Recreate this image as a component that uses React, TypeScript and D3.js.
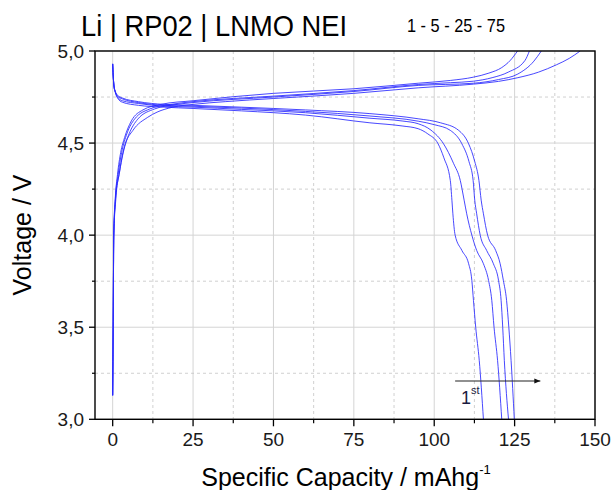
import React from "react";
import * as d3 from "d3";

type Pt = [number, number];

const cycleLabels = ["1", "5", "25", "75"];

// charge curves: [capacity mAh/g, voltage V]
const chargeCycle1: Pt[] = [[0,3.13],[0.15,3.5],[0.35,4.0],[1,4.2],[2.2,4.35],[4,4.496],[6.3,4.569],[10.9,4.64],[13.8,4.668],[18.7,4.695],[25,4.71],[35,4.725],[50,4.742],[75,4.77],[95,4.8],[112.2,4.82],[120,4.835],[126,4.855],[132.4,4.885],[138,4.925],[142,4.96],[145.4,5.0]];
const chargeCycle5: Pt[] = [[0,3.13],[0.15,3.5],[0.35,4.0],[0.9,4.2],[2,4.33],[3.2,4.45],[5.1,4.55],[7.8,4.63],[13,4.685],[20,4.71],[25,4.72],[50,4.75],[75,4.78],[95,4.813],[112.2,4.825],[120,4.845],[126,4.875],[131,4.945],[133.3,5.0]];
const chargeCycle25: Pt[] = [[0,3.13],[0.15,3.5],[0.35,4.0],[0.85,4.2],[1.7,4.33],[2.8,4.45],[4.4,4.55],[6.8,4.63],[11.5,4.685],[18,4.71],[25,4.725],[50,4.755],[75,4.785],[95,4.818],[105,4.828],[112.2,4.836],[118,4.855],[123,4.885],[128.2,4.948],[129.6,5.0]];
const chargeCycle75: Pt[] = [[0,3.13],[0.15,3.5],[0.3,4.0],[0.8,4.2],[1.5,4.33],[2.5,4.45],[3.7,4.53],[5.8,4.62],[9.4,4.68],[15,4.71],[25,4.73],[50,4.77],[75,4.795],[95,4.825],[105,4.84],[112.2,4.858],[117,4.88],[121,4.91],[123.6,4.948],[125.9,5.0]];

// discharge curves
const dischargeCycle1: Pt[] = [[0,4.93],[0.15,4.87],[0.4,4.81],[0.8,4.775],[1.5,4.745],[3,4.722],[8,4.705],[16,4.695],[25,4.688],[40,4.675],[60,4.652],[80,4.61],[90,4.593],[95,4.578],[98,4.55],[101.2,4.496],[103,4.42],[105,4.297],[105.5,4.19],[105.8,4.116],[106.5,4.0],[108.6,3.917],[110.7,3.845],[111.7,3.754],[112.2,3.646],[112.9,3.5],[114,3.32],[115.3,3.0]];
const dischargeCycle5: Pt[] = [[0,4.93],[0.15,4.87],[0.4,4.81],[0.8,4.78],[1.5,4.75],[3,4.73],[8,4.715],[16,4.7],[25,4.695],[40,4.683],[60,4.665],[80,4.635],[90,4.62],[95,4.605],[99,4.57],[102.9,4.496],[106,4.39],[108.1,4.297],[109.3,4.19],[110.1,4.116],[111.7,4.0],[113.2,3.917],[115.3,3.845],[116.9,3.754],[117.9,3.646],[118.6,3.5],[119.7,3.32],[121.0,3.0]];
const dischargeCycle25: Pt[] = [[0,4.93],[0.15,4.87],[0.4,4.81],[0.8,4.78],[1.5,4.755],[3,4.74],[8,4.72],[16,4.705],[25,4.7],[40,4.69],[60,4.672],[80,4.647],[95,4.619],[100,4.6],[105,4.569],[108.6,4.496],[110.8,4.4],[112.1,4.297],[112.6,4.19],[113.2,4.116],[114.3,4.0],[116.3,3.917],[118.4,3.845],[120,3.754],[120.8,3.646],[121.3,3.5],[121.8,3.32],[123.1,3.0]];
const dischargeCycle75: Pt[] = [[0,4.93],[0.15,4.87],[0.4,4.81],[0.8,4.78],[1.5,4.76],[3,4.745],[8,4.725],[16,4.71],[25,4.705],[40,4.695],[60,4.68],[80,4.66],[95,4.632],[102,4.61],[107.6,4.569],[110.7,4.496],[112.6,4.4],[113.9,4.297],[114.6,4.19],[115.3,4.116],[116.6,4.0],[119.1,3.917],[120.5,3.845],[121.5,3.754],[122.5,3.646],[123.2,3.5],[123.9,3.32],[124.9,3.0]];

const curves: Pt[][] = [chargeCycle1, chargeCycle5, chargeCycle25, chargeCycle75, dischargeCycle1, dischargeCycle5, dischargeCycle25, dischargeCycle75];

const xTicks = [0, 25, 50, 75, 100, 125, 150];
const xMinorTicks = [12.5, 37.5, 62.5, 87.5, 112.5, 137.5];
const yTicks = [3.0, 3.5, 4.0, 4.5, 5.0];
const yMinorTicks = [3.25, 3.75, 4.25, 4.75];

const titleText = "Li | RP02 | LNMO NEI";
const xTitle = "Specific Capacity / mAhg";
const yTitle = "Voltage / V";

// annotation arrow (data coords)
const arrowFrom: Pt = [106.5, 3.208];
const arrowTo: Pt = [133, 3.208];
const firstLabelPos: Pt = [108.3, 3.083];

const FONT = "'Liberation Sans', Arial, sans-serif";

export default function App() {
  const L = 95, R = 595, T = 51, B = 419.3;
  const x = d3.scaleLinear().domain([-5.5, 150]).range([L, R]);
  const y = d3.scaleLinear().domain([3, 5]).range([B, T]);
  const line = d3.line<Pt>().x(d => x(d[0])).y(d => y(d[1])).curve(d3.curveMonotoneX);
  const fmt = (v: number) => d3.format(".1f")(v).replace(".", ",");

  return (
    <svg width={614} height={490} style={{ position: "absolute", left: 0, top: 0, background: "#fff" }} fontFamily={FONT}>
      <defs>
        <clipPath id="plot"><rect x={L} y={T} width={R - L} height={B - T} /></clipPath>
        <marker id="ah" viewBox="0 0 10 10" refX="10" refY="5" markerWidth="10" markerHeight="6" orient="auto" markerUnits="userSpaceOnUse">
          <path d="M0,1 L10,5 L0,9 Z" fill="#111" />
        </marker>
      </defs>
      {/* grid */}
      {xTicks.map(t => <line key={"gx" + t} x1={x(t)} x2={x(t)} y1={T} y2={B} stroke="#d4d4d4" strokeWidth={1} />)}
      {xMinorTicks.map(t => <line key={"gmx" + t} x1={x(t)} x2={x(t)} y1={T} y2={B} stroke="#c4c4c4" strokeWidth={0.8} strokeDasharray="3,3" />)}
      {yTicks.map(t => <line key={"gy" + t} x1={L} x2={R} y1={y(t)} y2={y(t)} stroke="#d4d4d4" strokeWidth={1} />)}
      {yMinorTicks.map(t => <line key={"gmy" + t} x1={L} x2={R} y1={y(t)} y2={y(t)} stroke="#c4c4c4" strokeWidth={0.8} strokeDasharray="3,3" />)}
      {/* curves */}
      <g clipPath="url(#plot)">
        {curves.map((c, i) => (
          <path key={i} d={line(c) || ""} fill="none" stroke="#2828ff" strokeOpacity={0.85} strokeWidth={1} />
        ))}
      </g>
      {/* frame */}
      <rect x={L} y={T} width={R - L} height={B - T} fill="none" stroke="#000" strokeWidth={1.4} />
      {/* ticks */}
      {xTicks.map(t => <line key={"tx" + t} x1={x(t)} x2={x(t)} y1={B} y2={B + 7} stroke="#000" strokeWidth={1.3} />)}
      {xMinorTicks.map(t => <line key={"tmx" + t} x1={x(t)} x2={x(t)} y1={B} y2={B + 4} stroke="#000" strokeWidth={1.2} />)}
      {yTicks.map(t => <line key={"ty" + t} x1={L - 6} x2={L} y1={y(t)} y2={y(t)} stroke="#000" strokeWidth={1.3} />)}
      {yMinorTicks.map(t => <line key={"tmy" + t} x1={L - 3} x2={L} y1={y(t)} y2={y(t)} stroke="#000" strokeWidth={1.2} />)}
      {/* tick labels */}
      {xTicks.map(t => <text key={"lx" + t} x={x(t)} y={446} textAnchor="middle" fontSize={19} fill="#1a1a1a">{t}</text>)}
      {yTicks.map(t => <text key={"ly" + t} x={84} y={y(t)} dy="0.36em" textAnchor="end" fontSize={19} fill="#1a1a1a">{fmt(t)}</text>)}
      {/* titles */}
      <text x={81} y={36} fontSize={29} textLength={266} lengthAdjust="spacingAndGlyphs" fill="#000">{titleText}</text>
      <text x={407} y={32} fontSize={18} textLength={98} lengthAdjust="spacingAndGlyphs" fill="#000">{cycleLabels.join(" - ")}</text>
      <text x={346} y={486} textAnchor="middle" fontSize={25} fill="#000">
        {xTitle}<tspan fontSize={13} dy={-12}>-1</tspan>
      </text>
      <text transform="translate(31,235) rotate(-90)" textAnchor="middle" fontSize={25} fill="#000">{yTitle}</text>
      {/* annotation */}
      <line x1={x(arrowFrom[0])} y1={y(arrowFrom[1])} x2={x(arrowTo[0])} y2={y(arrowTo[1])} stroke="#222" strokeWidth={1.1} markerEnd="url(#ah)" />
      <text x={x(firstLabelPos[0])} y={y(firstLabelPos[1])} fontSize={18} fill="#1a1a40">1<tspan fontSize={11} dy={-10}>st</tspan></text>
    </svg>
  );
}
